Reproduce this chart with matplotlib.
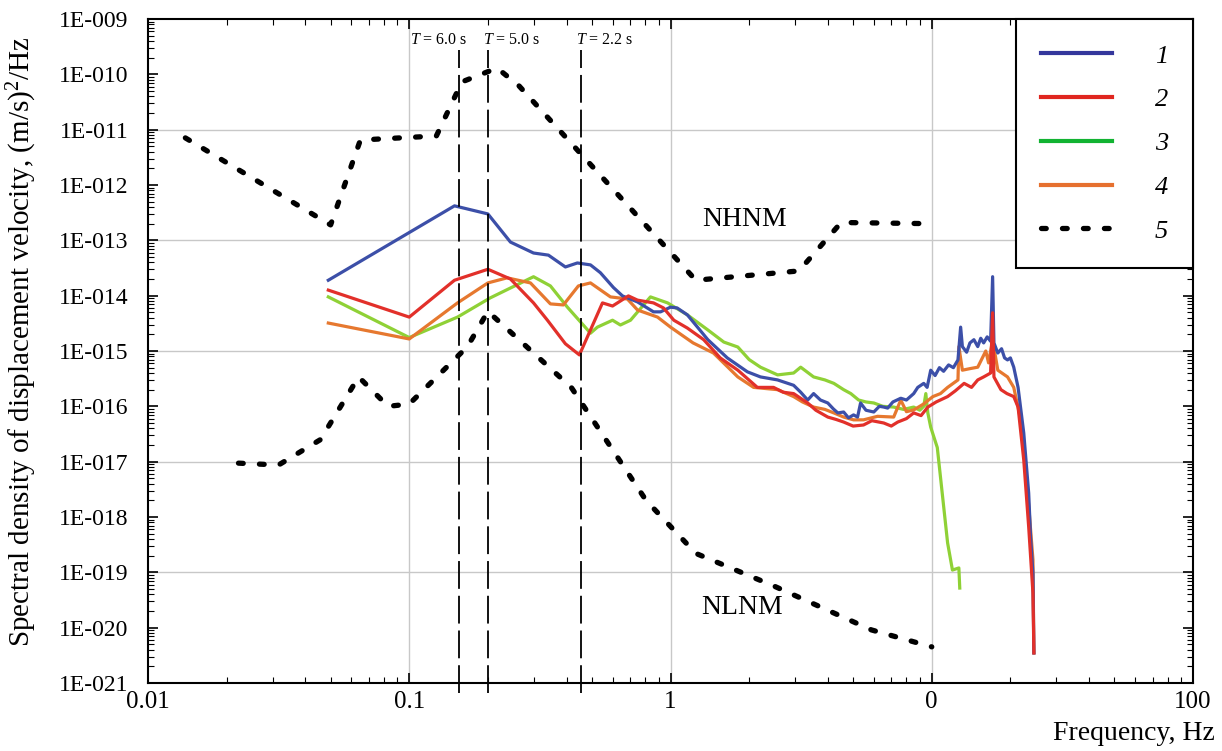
import numpy as np
import matplotlib
matplotlib.use("Agg")
import matplotlib.pyplot as plt
from matplotlib.lines import Line2D
from matplotlib.ticker import LogLocator, NullFormatter

plt.rcParams["font.family"] = ["Liberation Serif", "DejaVu Serif"]
plt.rcParams["mathtext.fontset"] = "custom"
plt.rcParams["mathtext.rm"] = "Liberation Serif"
plt.rcParams["mathtext.it"] = "Liberation Serif:italic"
plt.rcParams["lines.scale_dashes"] = False

# --- curve 1 (blue)
f1 = [0.049, 0.149, 0.2, 0.244, 0.299, 0.341, 0.396, 0.44, 0.494, 0.539, 0.605, 0.655,
      0.748, 0.861, 0.916, 1.0, 1.06, 1.16, 1.39, 1.65, 1.97, 2.21, 2.57, 2.96, 3.15,
      3.35, 3.53, 3.75, 4.0, 4.2, 4.37, 4.6, 4.8, 5.02, 5.2, 5.34, 5.6, 6.0, 6.3, 6.55,
      6.78, 7.1, 7.61, 8.0, 8.53, 8.84, 9.32, 9.6, 9.91, 10.3, 10.7, 11.1, 11.6, 12.1,
      12.6, 12.9, 13.1, 13.6, 14.0, 14.5, 15.0, 15.4, 15.8, 16.3, 16.8, 17.1, 17.3, 17.9,
      18.5, 19.0, 19.5, 20.0, 20.6, 21.4, 22.5, 23.5, 23.9, 24.4, 24.6]
p1 = [1.9e-14, 4.2e-13, 3.0e-13, 9.3e-14, 5.9e-14, 5.4e-14, 3.3e-14, 3.9e-14, 3.6e-14,
      2.6e-14, 1.4e-14, 9.9e-15, 7.7e-15, 5.1e-15, 5.1e-15, 6.2e-15, 6.0e-15, 4.5e-15,
      1.6e-15, 7.5e-16, 4.2e-16, 3.4e-16, 3.0e-16, 2.4e-16, 1.8e-16, 1.3e-16, 1.7e-16,
      1.3e-16, 1.15e-16, 9.0e-17, 7.6e-17, 7.9e-17, 6.2e-17, 7.0e-17, 6.4e-17, 1.15e-16,
      8.5e-17, 7.9e-17, 1.0e-16, 9.7e-17, 9.3e-17, 1.2e-16, 1.4e-16, 1.3e-16, 1.7e-16,
      2.2e-16, 2.6e-16, 2.2e-16, 4.5e-16, 3.6e-16, 5.0e-16, 4.3e-16, 5.6e-16, 5.0e-16,
      6.9e-16, 2.7e-15, 1.2e-15, 9.5e-16, 1.4e-15, 1.6e-15, 1.2e-15, 1.7e-15, 1.4e-15,
      1.8e-15, 1.5e-15, 2.2e-14, 1.4e-15, 9.2e-16, 1.1e-15, 7.5e-16, 6.9e-16, 7.5e-16,
      5.1e-16, 2.2e-16, 3.3e-17, 2.7e-18, 4.3e-19, 9.7e-20, 3.5e-21]

# --- curve 2 (red)
f2 = [0.049, 0.1, 0.149, 0.2, 0.244, 0.299, 0.338, 0.396, 0.448, 0.494, 0.549, 0.6,
      0.69, 0.748, 0.861, 0.94, 1.03, 1.16, 1.34, 1.55, 1.81, 2.15, 2.48, 2.7, 2.96,
      3.35, 3.6, 4.0, 4.3, 4.6, 5.0, 5.48, 5.9, 6.55, 7.0, 7.41, 8.0, 8.53, 9.1, 9.66,
      10.4, 11.5, 12.3, 13.3, 14.2, 15.0, 15.8, 16.8, 17.1, 17.3, 18.4, 19.4, 20.6, 21.4,
      22.5, 23.5, 24.4, 24.6]
p2 = [1.26e-14, 4.1e-15, 1.9e-14, 3.0e-14, 2.0e-14, 7.4e-15, 3.6e-15, 1.35e-15, 8.5e-16,
      2.4e-15, 7.4e-15, 6.5e-15, 9.9e-15, 8.3e-15, 7.4e-15, 6.0e-15, 3.6e-15, 2.6e-15,
      1.6e-15, 7.5e-16, 4.5e-16, 2.2e-16, 2.2e-16, 1.8e-16, 1.7e-16, 1.15e-16, 8.5e-17,
      6.4e-17, 5.8e-17, 5.2e-17, 4.4e-17, 4.6e-17, 5.5e-17, 5.0e-17, 4.4e-17, 5.2e-17,
      6.0e-17, 7.6e-17, 6.8e-17, 9.7e-17, 1.2e-16, 1.5e-16, 1.9e-16, 2.6e-16, 2.2e-16,
      3.0e-16, 3.4e-16, 4.0e-16, 4.9e-15, 3.4e-16, 2.0e-16, 1.7e-16, 1.5e-16, 9.7e-17,
      1.07e-17, 6.6e-19, 4.2e-20, 3.5e-21]

# --- curve 3 (green)
f3 = [0.049, 0.1, 0.153, 0.204, 0.299, 0.347, 0.403, 0.494, 0.525, 0.6, 0.643, 0.703,
      0.838, 0.975, 1.16, 1.39, 1.6, 1.81, 2.0, 2.21, 2.57, 2.96, 3.15, 3.53, 3.9, 4.22,
      4.6, 4.9, 5.25, 5.6, 6.0, 6.5, 7.15, 7.8, 8.53, 9.0, 9.32, 9.49, 9.66, 9.91, 10.5,
      11.5, 12.0, 12.7, 12.8]
p3 = [9.5e-15, 1.75e-15, 4.1e-15, 9.1e-15, 2.2e-14, 1.5e-14, 6.2e-15, 2.1e-15, 2.7e-15,
      3.6e-15, 2.95e-15, 3.6e-15, 9.5e-15, 7.4e-15, 4.5e-15, 2.4e-15, 1.45e-15, 1.18e-15,
      7.0e-16, 5.1e-16, 3.7e-16, 4.0e-16, 5.1e-16, 3.4e-16, 3.0e-16, 2.6e-16, 2.0e-16,
      1.7e-16, 1.3e-16, 1.2e-16, 1.15e-16, 1.0e-16, 9.7e-17, 8.8e-17, 9.7e-17, 8.5e-17,
      1.0e-16, 1.7e-16, 7.6e-17, 4.2e-17, 1.8e-17, 3.4e-19, 1.1e-19, 1.2e-19, 5.2e-20]

# --- curve 4 (orange)
f4 = [0.049, 0.1, 0.153, 0.2, 0.237, 0.291, 0.347, 0.389, 0.444, 0.494, 0.589, 0.684,
      0.748, 0.892, 1.0, 1.22, 1.46, 1.81, 2.08, 2.57, 2.96, 3.2, 3.53, 3.9, 4.22, 4.6,
      5.02, 5.48, 6.2, 7.15, 7.61, 8.0, 8.53, 9.3, 10.1, 10.8, 11.5, 12.6, 12.7, 13.1,
      14.0, 15.0, 16.1, 16.5, 17.1, 17.9, 19.5, 20.6, 21.9, 23.3, 24.4, 24.6]
p4 = [3.2e-15, 1.65e-15, 7.4e-15, 1.7e-14, 2.1e-14, 1.7e-14, 7.1e-15, 6.8e-15, 1.5e-14,
      1.7e-14, 9.5e-15, 8.7e-15, 5.5e-15, 4.1e-15, 2.7e-15, 1.4e-15, 9.2e-16, 3.4e-16,
      2.2e-16, 2.0e-16, 1.5e-16, 1.2e-16, 9.7e-17, 8.8e-17, 7.6e-17, 6.4e-17, 5.7e-17,
      5.7e-17, 6.6e-17, 6.4e-17, 1.3e-16, 8.0e-17, 8.6e-17, 1.1e-16, 1.5e-16, 1.7e-16,
      2.2e-16, 3.0e-16, 1.2e-15, 4.5e-16, 4.8e-16, 5.1e-16, 1.0e-15, 6.1e-16, 1.6e-15,
      4.5e-16, 3.4e-16, 2.2e-16, 5.7e-17, 2.7e-18, 1.7e-19, 3.5e-21]

# --- noise models (5)
nhnm_f = [0.0139, 0.05, 0.065, 0.127, 0.159, 0.217, 0.263, 1.25, 3.1, 4.5, 10.0]
nhnm_p = [7.1e-12, 1.9e-13, 6.5e-12, 7.7e-12, 7.3e-11, 1.3e-10, 6.2e-11, 1.9e-14,
          2.8e-14, 2.1e-13, 2.0e-13]
nlnm_f = [0.0222, 0.0316, 0.0457, 0.064, 0.083, 0.1, 0.167, 0.2, 0.417, 0.806, 1.25,
          2.5, 5.88, 10.0]
nlnm_p = [9.4e-18, 8.7e-18, 2.5e-17, 3.4e-16, 1.0e-16, 1.1e-16, 1.2e-15, 5.2e-15,
          2.2e-16, 2.0e-18, 2.2e-19, 5.6e-20, 9.1e-21, 4.5e-21]

period_f = [0.155, 0.2, 0.455]
period_txt = ["6.0", "5.0", "2.2"]

xtick_vals = [0.01, 0.1, 1, 10, 100]
xtick_labels = ["0.01", "0.1", "1", "0", "100"]
ytick_exp = list(range(-21, -8))
legend_labels = ["1", "2", "3", "4", "5"]

blue, red, green, orange = "#3c4fa8", "#e2302a", "#8fd136", "#e6782f"

fig = plt.figure(figsize=(12.22, 7.51), dpi=100)
ax = fig.add_axes([148 / 1222, 1 - 683 / 751, 1045 / 1222, 664 / 751])

dot_style = dict(color="black", lw=3.8, dashes=(3.4, 11.7), dash_capstyle="round")
ax.plot(nhnm_f, nhnm_p, **dot_style, zorder=3)
ax.plot(nlnm_f, nlnm_p, **dot_style, zorder=3)

ax.plot(f3, p3, color=green, lw=2.3, zorder=4)
ax.plot(f4, p4, color=orange, lw=2.3, zorder=4)
ax.plot(f1, p1, color=blue, lw=2.3, zorder=5)
ax.plot(f2, p2, color=red, lw=2.3, zorder=6)

# period marker lines
offsets = [9, -5, -5]
aligns = ["right", "left", "left"]
for f, t, off, ha in zip(period_f, period_txt, offsets, aligns):
    ax.plot([f, f], [-0.015, 0.953], transform=ax.get_xaxis_transform(),
            color="black", lw=1.3, dashes=(20, 5), clip_on=False, zorder=7)
    ax.annotate("$T$ = " + t + " s", xy=(f, 0.968), xycoords=("data", "axes fraction"),
                xytext=(off * 0.72, 0), textcoords="offset points",
                ha=ha, va="center", fontsize=11.5)

fig.text(745 / 1222, 1 - 219 / 751, "NHNM", ha="center", va="center", fontsize=20)
fig.text(742 / 1222, 1 - 608 / 751, "NLNM", ha="center", va="center", fontsize=20)

ax.set_xscale("log")
ax.set_yscale("log")
ax.set_xlim(0.01, 100)
ax.set_ylim(1e-21, 1e-9)

ax.set_xticks(xtick_vals)
ax.set_xticklabels(xtick_labels)
ax.set_yticks([10.0 ** e for e in ytick_exp])
ax.set_yticklabels(["1E-%03d" % (-e) for e in ytick_exp])
ax.xaxis.set_minor_locator(LogLocator(base=10, subs=np.arange(2, 10), numticks=100))
ax.yaxis.set_minor_locator(LogLocator(base=10, subs=np.arange(2, 10), numticks=100))
ax.xaxis.set_minor_formatter(NullFormatter())
ax.yaxis.set_minor_formatter(NullFormatter())

ax.tick_params(which="both", direction="in", top=True, right=True)
ax.tick_params(which="major", length=7, width=1.2)
ax.tick_params(which="minor", length=4, width=0.8)
ax.tick_params(axis="y", which="major", pad=14, labelsize=17)
ax.tick_params(axis="x", which="major", pad=6, labelsize=18)

for x in [0.1, 1, 10]:
    ax.axvline(x, color="#c8c8c8", lw=1.0, zorder=1)
for e in [-11, -13, -15, -17, -19]:
    ax.axhline(10.0 ** e, color="#c8c8c8", lw=1.0, zorder=1)

for s in ax.spines.values():
    s.set_linewidth(1.5)

ax.set_ylabel("Spectral density of displacement velocity, (m/s)$^2$/Hz", fontsize=21)
ax.yaxis.set_label_coords(-0.104, 0.514)
fig.text(1215 / 1222, 1 - 733 / 751, "Frequency, Hz", ha="right", va="center", fontsize=20)

handles = [Line2D([], [], color="#34379c", lw=3),
           Line2D([], [], color="#e0261f", lw=3),
           Line2D([], [], color="#12b332", lw=3),
           Line2D([], [], color="#e6702f", lw=3),
           Line2D([], [], **dot_style)]
leg = ax.legend(handles, legend_labels, loc="upper right", bbox_to_anchor=(1, 1),
                borderaxespad=0, fancybox=False, edgecolor="black", framealpha=1,
                prop={"family": "Liberation Serif", "style": "italic", "size": 19},
                handlelength=2.7, handletextpad=1.6, borderpad=0.95, labelspacing=0.77)
leg.get_frame().set_linewidth(1.5)
leg.set_zorder(10)

fig.savefig("out.png", dpi=100)
